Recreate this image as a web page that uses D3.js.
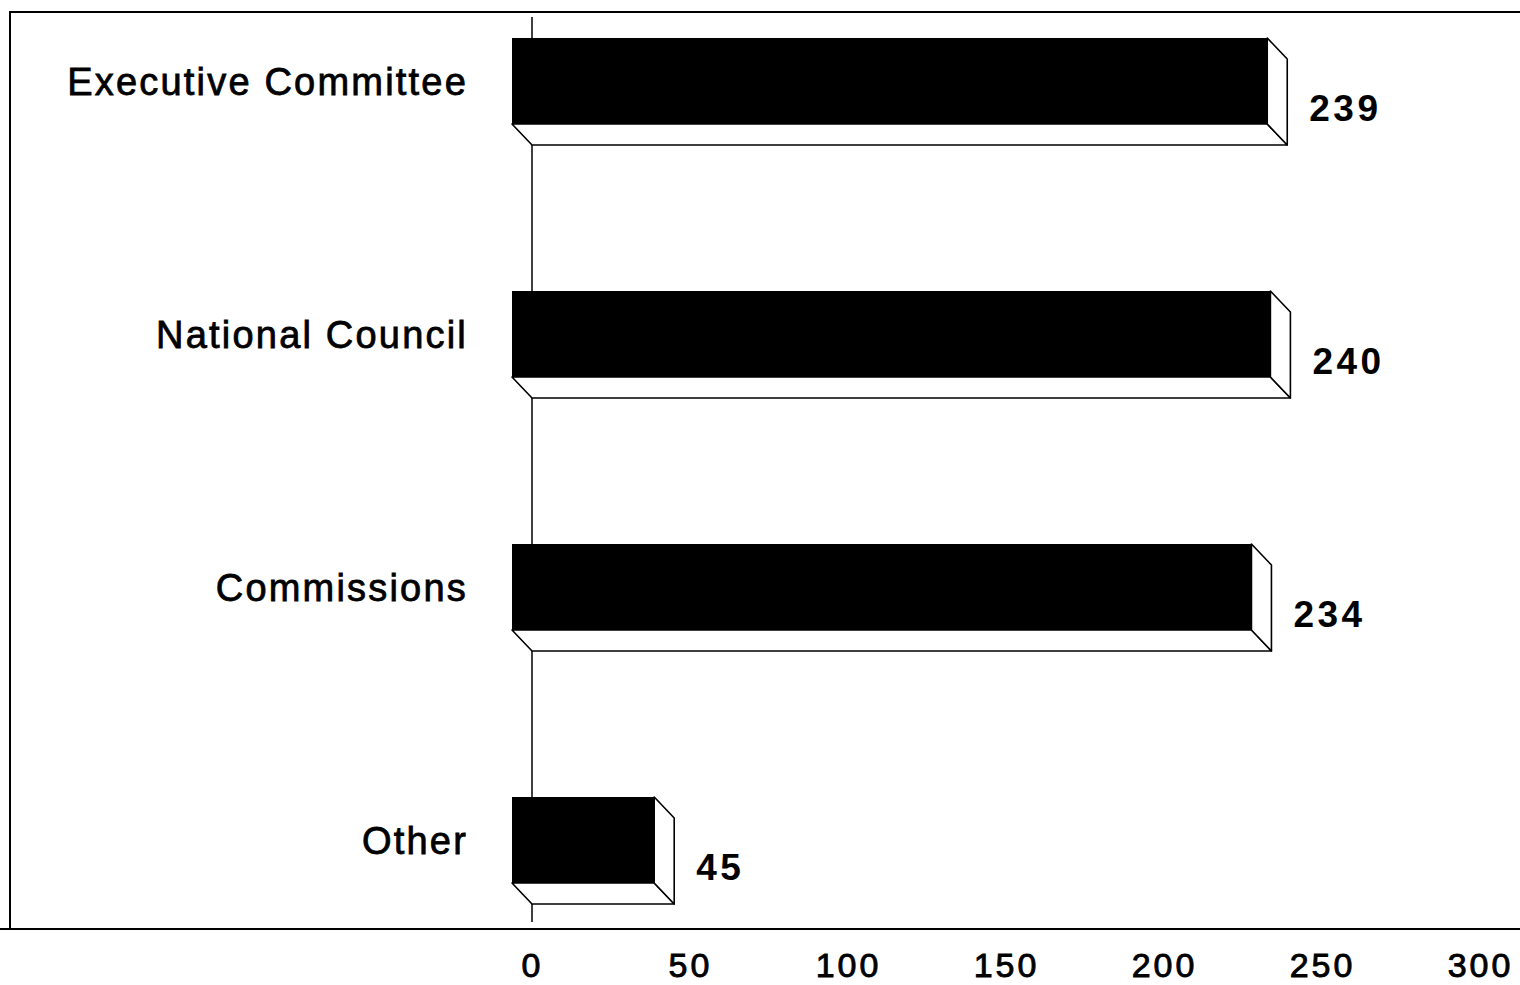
<!DOCTYPE html>
<html>
<head>
<meta charset="utf-8">
<script src="https://cdn.jsdelivr.net/npm/d3@7"></script>
<style>
  body { margin: 0; background: #fff; }
  svg { display: block; }
  text { font-family: "Liberation Sans", Arial, Helvetica, sans-serif; fill: #000; }
</style>
</head>
<body>
<div id="svg-container"></div>
<script>
// Chart size
const width = 1520;
const height = 985;

// Data
const categories = ["Executive Committee", "National Council", "Commissions", "Other"];
const values = [239, 240, 234, 45];
const tickValues = [0, 50, 100, 150, 200, 250, 300];

// 3D depth of the bars
const depth = { x: 20, y: 21 };
const barHeight = 86;

const svg = d3.select("#svg-container")
  .append("svg")
    .attr("width", width)
    .attr("height", height);

// Scales (x refers to the back face of the bars)
const xScale = d3.scaleLinear()
  .domain([0, 300])
  .range([532, 1480]);

const yScale = d3.scalePoint()
  .domain(categories)
  .range([81, 840]);

const data = categories.map((c, i) => ({ name: c, value: values[i] }));

// Frame
svg.append("path")
  .attr("d", `M${width},12 H10 V929 H0 M10,929 H${width}`)
  .attr("fill", "none")
  .attr("stroke", "#000")
  .attr("stroke-width", 2);

// Zero axis line (behind the bars)
svg.append("line")
  .attr("x1", xScale(0)).attr("x2", xScale(0))
  .attr("y1", 17).attr("y2", 922)
  .attr("stroke", "#000")
  .attr("stroke-width", 1.5);

// Bars
const bars = svg.selectAll(".bar")
  .data(data)
  .enter()
  .append("g")
    .attr("class", "bar");

function faces(d) {
  const x0 = xScale(0) - depth.x;
  const x1 = xScale(d.value) - depth.x;
  const yt = yScale(d.name) - barHeight / 2;
  const yb = yScale(d.name) + barHeight / 2;
  return { x0, x1, yt, yb };
}

// bottom face
bars.append("path")
  .attr("d", d => {
    const f = faces(d);
    return `M${f.x0},${f.yb} L${f.x1},${f.yb} L${f.x1 + depth.x},${f.yb + depth.y} L${f.x0 + depth.x},${f.yb + depth.y} Z`;
  })
  .attr("fill", "#fff")
  .attr("stroke", "#000")
  .attr("stroke-width", 1.6)
  .attr("stroke-linejoin", "round");

// side face
bars.append("path")
  .attr("d", d => {
    const f = faces(d);
    return `M${f.x1},${f.yt} L${f.x1 + depth.x},${f.yt + depth.y} L${f.x1 + depth.x},${f.yb + depth.y} L${f.x1},${f.yb} Z`;
  })
  .attr("fill", "#fff")
  .attr("stroke", "#000")
  .attr("stroke-width", 1.6)
  .attr("stroke-linejoin", "round");

// front face
bars.append("rect")
  .attr("x", d => faces(d).x0)
  .attr("y", d => faces(d).yt)
  .attr("width", d => faces(d).x1 - faces(d).x0)
  .attr("height", barHeight)
  .attr("fill", "#000");

// Category labels
svg.selectAll(".cat")
  .data(data)
  .enter()
  .append("text")
    .attr("class", "cat")
    .attr("x", 468)
    .attr("y", d => yScale(d.name) + 14)
    .attr("text-anchor", "end")
    .style("font-size", "38px")
    .style("letter-spacing", "2.2px")
    .style("stroke", "#000")
    .style("stroke-width", "0.8px")
    .text(d => d.name);

// Value labels
svg.selectAll(".val")
  .data(data)
  .enter()
  .append("text")
    .attr("class", "val")
    .attr("x", d => xScale(d.value) + 22)
    .attr("y", d => yScale(d.name) + barHeight / 2 - 3)
    .style("font-size", "37px")
    .style("font-weight", "bold")
    .style("letter-spacing", "3.5px")
    .text(d => d.value);

// X axis tick labels
const xAxis = d3.axisBottom(xScale)
  .tickValues(tickValues)
  .tickSize(0)
  .tickPadding(0);

const axisG = svg.append("g")
  .attr("transform", "translate(0, 950)")
  .call(xAxis);

axisG.select(".domain").remove();
axisG.selectAll("text")
  .attr("dy", null)
  .attr("y", 27)
  .style("font-family", "'Liberation Sans', Arial, sans-serif")
  .style("font-size", "34px")
  .style("letter-spacing", "3px")
  .style("stroke", "#000")
  .style("stroke-width", "0.9px")
  .attr("fill", "#000");
</script>
</body>
</html>
